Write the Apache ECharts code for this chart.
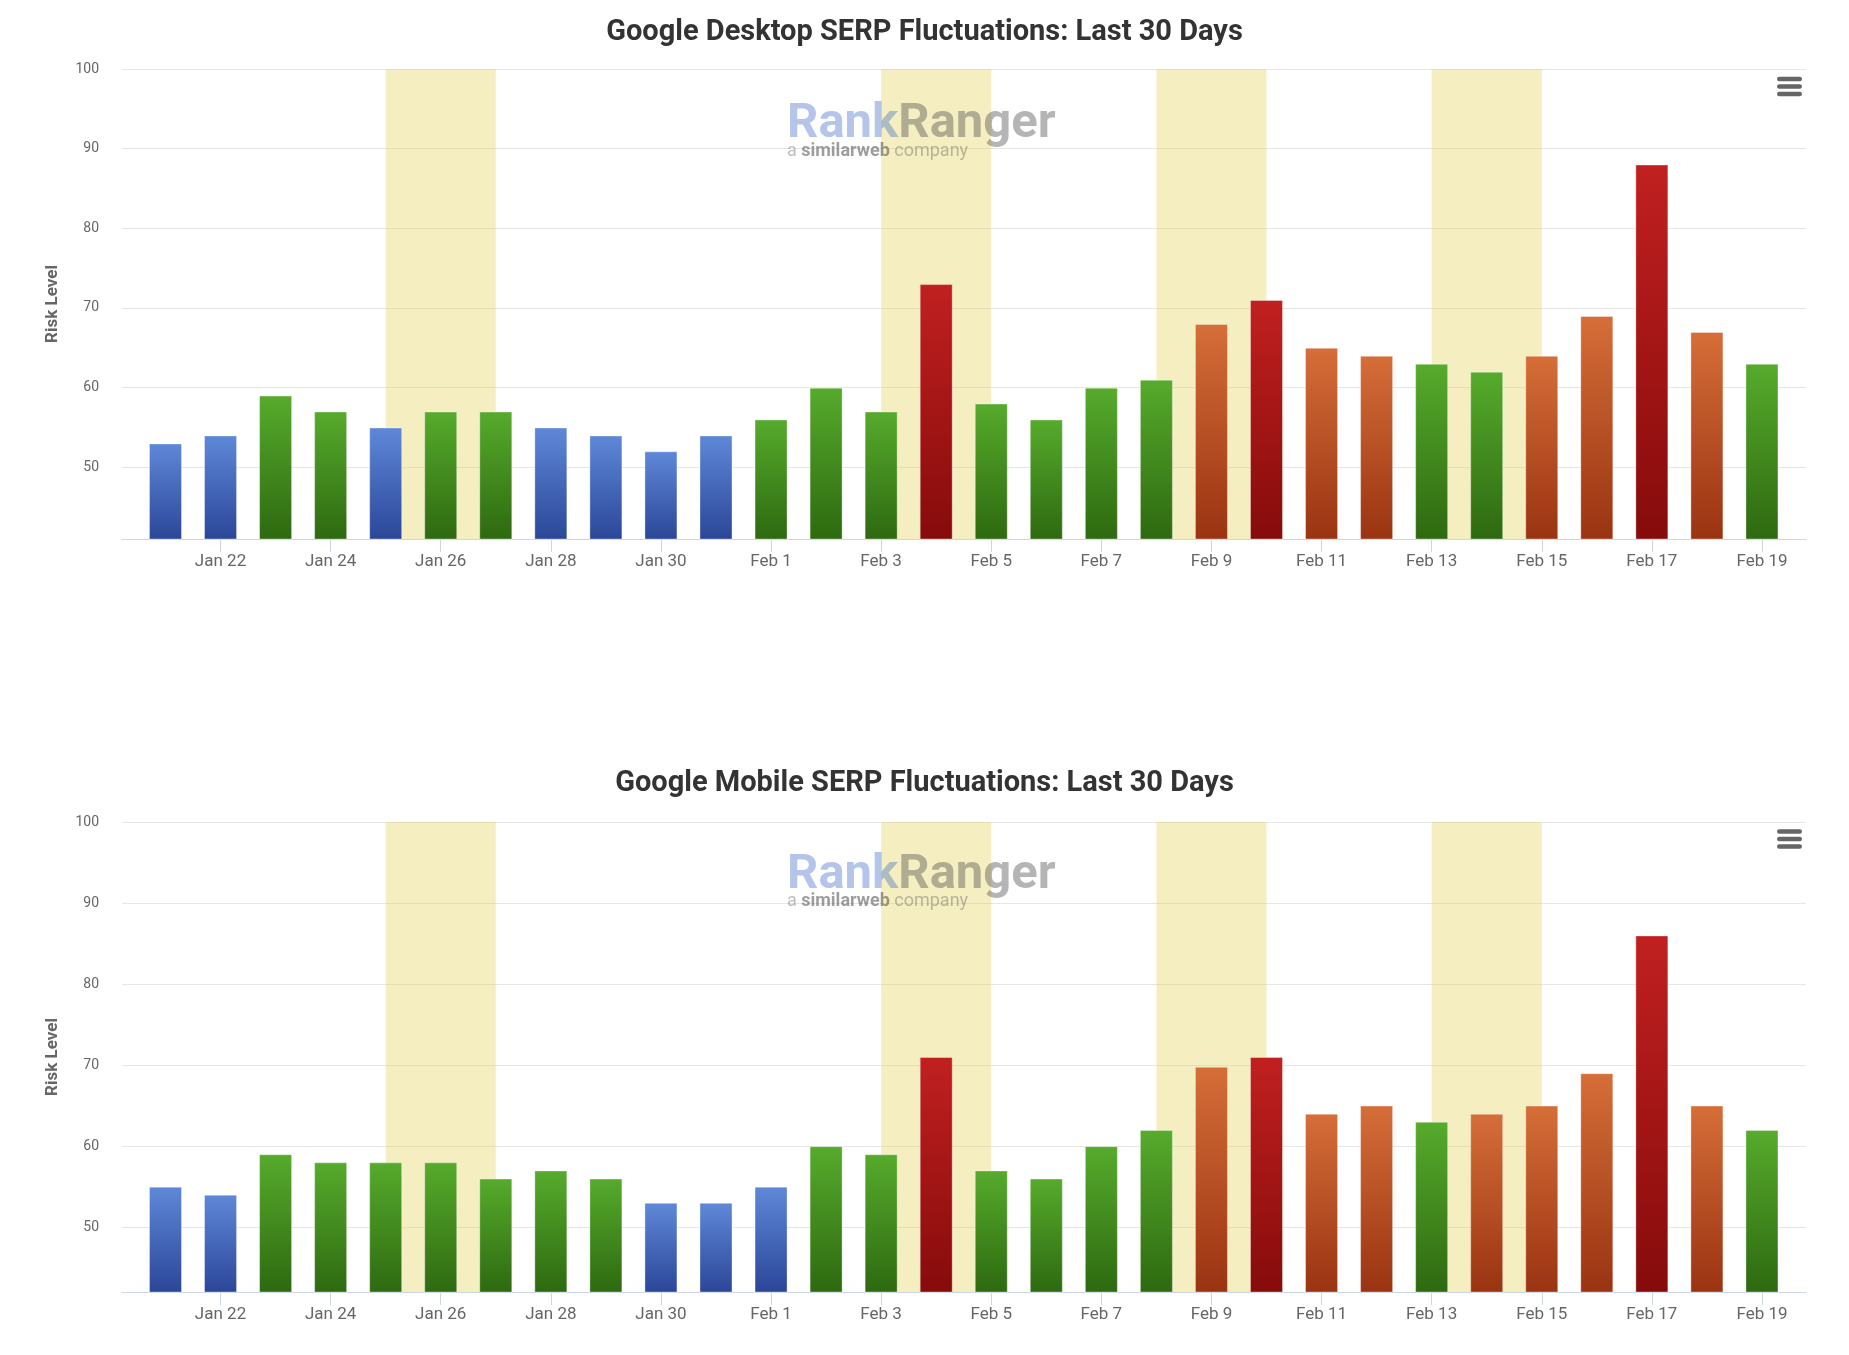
<!DOCTYPE html>
<html>
<head>
<meta charset="utf-8">
<script src="https://cdn.jsdelivr.net/npm/echarts@6/dist/echarts.min.js"></script>
<style>
html,body{margin:0;padding:0;background:#ffffff;}
#chart{width:1849px;height:1355px;}
</style>
</head>
<body>
<div id="chart"></div>
<script>
// ---------- data ----------
const dates = ['Jan 21','Jan 22','Jan 23','Jan 24','Jan 25','Jan 26','Jan 27','Jan 28','Jan 29','Jan 30','Jan 31',
  'Feb 1','Feb 2','Feb 3','Feb 4','Feb 5','Feb 6','Feb 7','Feb 8','Feb 9','Feb 10','Feb 11','Feb 12','Feb 13',
  'Feb 14','Feb 15','Feb 16','Feb 17','Feb 18','Feb 19'];
const desktopValues = [53,54,59,57,55,57,57,55,54,52,54,56,60,57,73,58,56,60,61,68,71,65,64,63,62,64,69,88,67,63];
const mobileValues  = [55,54,59,58,58,58,56,57,56,53,53,55,60,59,71,57,56,60,62,69.8,71,64,65,63,64,65,69,86,65,62];
const yTickValues = [50,60,70,80,90,100];
const xTickLabels = ['Jan 22','Jan 24','Jan 26','Jan 28','Jan 30','Feb 1','Feb 3','Feb 5','Feb 7','Feb 9',
  'Feb 11','Feb 13','Feb 15','Feb 17','Feb 19'];
const highlightBands = [['Jan 25','Jan 27'],['Feb 3','Feb 5'],['Feb 8','Feb 10'],['Feb 13','Feb 15']];
const chartTitles = ['Google Desktop SERP Fluctuations: Last 30 Days','Google Mobile SERP Fluctuations: Last 30 Days'];
const yAxisMins = [41, 42];
const seriesValues = [desktopValues, mobileValues];

// ---------- styles ----------
const levelColors = {
  blue:   ['#5f88d9', '#2b4697'],
  green:  ['#56ab2c', '#2e6910'],
  orange: ['#d56e38', '#9a3311'],
  red:    ['#c12020', '#860b0b']
};
function levelOf(v){
  if (v > 70) return 'red';
  if (v >= 64) return 'orange';
  if (v >= 56) return 'green';
  return 'blue';
}
function grad(level){
  const c = levelColors[level];
  return new echarts.graphic.LinearGradient(0,0,0,1,[{offset:0,color:c[0]},{offset:1,color:c[1]}]);
}
const FONT = 'Roboto, "Noto Sans", sans-serif';
const layout = [
  {gridTop: 69, titleTop: 18.5, logoY: 121, subY: 153, menuTop: 76.7},
  {gridTop: 822, titleTop: 769.5, logoY: 872, subY: 903, menuTop: 829.3}
];
const tickIdx = xTickLabels.map(l => dates.indexOf(l));

const chart = echarts.init(document.getElementById('chart'), null, {renderer:'canvas'});

const option = {
  backgroundColor: '#ffffff',
  animation: false,
  title: chartTitles.map((t,i)=>({
    text: t, left: 'center', top: layout[i].titleTop, padding: 0,
    textStyle: {fontFamily: FONT, fontSize: 29, fontWeight: 'bold', color: '#333333'}
  })),
  grid: layout.map(l=>({left:122, right:43, top:l.gridTop, height:470, containLabel:false})),
  xAxis: layout.map((l,i)=>({
    type:'value', gridIndex:i, min:-0.79, max:29.8,
    axisLine:{show:true, onZero:false, lineStyle:{color:'#ccd6eb', width:1}},
    axisTick:{show:true, length:13, customValues: tickIdx, lineStyle:{color:'#ccd6eb', width:1}},
    axisLabel:{customValues: tickIdx, formatter: v => dates[Math.round(v)] || '',
      color:'#666666', fontSize:17, margin:14, fontFamily: FONT},
    splitLine:{show:false}
  })),
  yAxis: layout.map((l,i)=>({
    type:'value', gridIndex:i, min:yAxisMins[i], max:100,
    name:'Risk Level', nameLocation:'middle', nameGap:61,
    nameTextStyle:{color:'#666666', fontSize:17, fontWeight:'bold', fontFamily: FONT},
    axisLine:{show:false},
    axisTick:{show:false, customValues: yTickValues},
    axisLabel:{customValues: yTickValues, color:'#666666', fontSize:14, margin:23, fontFamily: FONT},
    splitLine:{show:true, lineStyle:{color:'#e6e6e6', width:1}}
  })),
  series: seriesValues.map((vals,i)=>({
    type:'bar', xAxisIndex:i, yAxisIndex:i, barWidth:33, z:2,
    emphasis:{disabled:true},
    data: vals.map((v,k)=>({value:[k,v], itemStyle:{color:grad(levelOf(v)), borderColor:'rgba(255,255,255,0.35)', borderWidth:1}})),
    markArea:{
      silent:true,
      itemStyle:{color:'rgba(224,206,75,0.35)'},
      data: highlightBands.map(b=>[{xAxis: dates.indexOf(b[0])},{xAxis: dates.indexOf(b[1])}])
    }
  })),
  graphic: [].concat(...layout.map(l=>[
    {type:'text', left:787, top:l.logoY-21, silent:true, z:5,
      style:{text:'{a|Rank}{b|Ranger}', rich:{
        a:{fontFamily:FONT, fontSize:49, fontWeight:'bold', fill:'rgba(68,110,200,0.40)'},
        b:{fontFamily:FONT, fontSize:49, fontWeight:'bold', fill:'rgba(90,90,90,0.45)'}
      }}},
    {type:'text', left:787, top:l.subY-11, silent:true, z:5,
      style:{text:'{a|a }{b|similarweb}{a| company}', rich:{
        a:{fontFamily:FONT, fontSize:18, fill:'rgba(90,90,90,0.40)'},
        b:{fontFamily:FONT, fontSize:18, fontWeight:'bold', fill:'rgba(60,60,60,0.50)'}
      }}},
    {type:'rect', shape:{x:1777, y:l.menuTop, width:25, height:4.5, r:2.2}, style:{fill:'#666666'}, silent:true},
    {type:'rect', shape:{x:1777, y:l.menuTop+7.5, width:25, height:4.5, r:2.2}, style:{fill:'#666666'}, silent:true},
    {type:'rect', shape:{x:1777, y:l.menuTop+15, width:25, height:4.5, r:2.2}, style:{fill:'#666666'}, silent:true}
  ]))
};
chart.setOption(option);
</script>
</body>
</html>
